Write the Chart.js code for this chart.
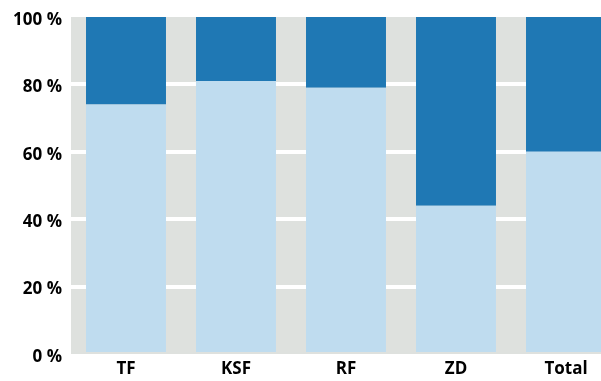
<!DOCTYPE html>
<html>
<head>
<meta charset="utf-8">
<script src="https://cdn.jsdelivr.net/npm/chart.js@4.4.1/dist/chart.umd.min.js"></script>
<style>
  html, body { margin: 0; padding: 0; background: #ffffff; overflow: hidden; }
  #wrap { width: 621px; height: 381px; }
</style>
</head>
<body>
<div id="wrap"><canvas id="c" width="621" height="381"></canvas></div>
<script>
const categories = ["TF", "KSF", "RF", "ZD", "Total"];
const lightShare = [74, 81, 79, 44, 60];
const darkShare = [26, 19, 21, 56, 40];
const yTicks = [0, 20, 40, 60, 80, 100];

const bgPlugin = {
  id: 'areaBg',
  beforeDraw(chart) {
    const a = chart.chartArea, ctx = chart.ctx;
    ctx.save();
    ctx.fillStyle = '#dee1de';
    ctx.fillRect(a.left, a.top, a.right - a.left, a.bottom - a.top);
    ctx.restore();
  }
};

const FONT = { family: "'Open Sans', sans-serif", size: 17, weight: '700' };

new Chart(document.getElementById('c'), {
  type: 'bar',
  data: {
    labels: categories,
    datasets: [
      { data: lightShare, backgroundColor: '#bfdcef', borderWidth: 0,
        barPercentage: 0.727, categoryPercentage: 1.0 },
      { data: darkShare, backgroundColor: '#1f78b4', borderWidth: 0,
        barPercentage: 0.727, categoryPercentage: 1.0 }
    ]
  },
  options: {
    responsive: false,
    devicePixelRatio: 1,
    animation: false,
    layout: { padding: { top: 17, right: 0, left: 0, bottom: 0 } },
    plugins: { legend: { display: false }, tooltip: { enabled: false } },
    scales: {
      x: {
        stacked: true,
        grid: { display: false },
        border: { display: false },
        ticks: { color: '#000', font: FONT, padding: -3 },
        afterFit(s) { s.height = 27; s.paddingLeft = 0; s.paddingRight = 0; }
      },
      y: {
        stacked: true,
        min: 0, max: 100,
        afterBuildTicks(s) { s.ticks = yTicks.map(v => ({ value: v })); },
        grid: {
          color: (c) => (c.tick && (c.tick.value === 0 || c.tick.value === 100)) ? 'rgba(0,0,0,0)' : '#ffffff',
          lineWidth: 4,
          drawTicks: false
        },
        border: { display: false },
        ticks: {
          color: '#000', font: FONT, padding: 9, labelOffset: 3,
          callback: (v) => v + ' %'
        },
        afterFit(s) { s.width = 71; s.paddingTop = 0; s.paddingBottom = 0; }
      }
    }
  },
  plugins: [bgPlugin]
});
</script>
</body>
</html>
